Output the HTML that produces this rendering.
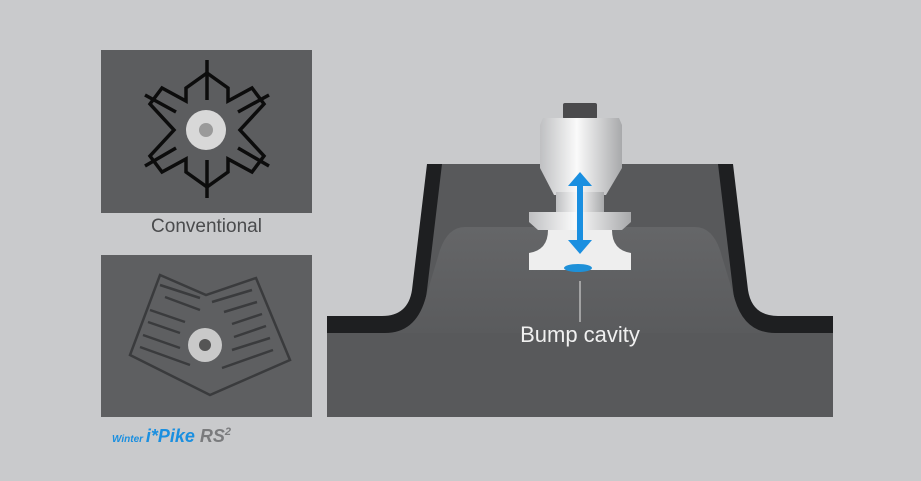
<!DOCTYPE html>
<html><head><style>
body{margin:0;width:921px;height:481px;background:#c9cacc;overflow:hidden;font-family:"Liberation Sans",sans-serif;position:relative}
.t{position:absolute;color:#4a4b4d}
</style></head><body>
<svg width="921" height="481" style="position:absolute;left:0;top:0">
<defs>
<linearGradient id="metal" x1="0" x2="1"><stop offset="0" stop-color="#bfc0c2"/><stop offset=".45" stop-color="#fafafa"/><stop offset="1" stop-color="#a8a9ab"/></linearGradient>
<linearGradient id="bump" x1="0" y1="0" x2="0" y2="1"><stop offset="0" stop-color="#656668"/><stop offset="1" stop-color="#5a5b5d"/></linearGradient>
</defs>
<rect x="101" y="50" width="211" height="163" fill="#5c5d5f"/>
<rect x="101" y="255" width="211" height="162" fill="#5e5f61"/>
<g stroke="#0c0c0c" stroke-width="3.5" fill="none" stroke-linejoin="miter">
<polygon points="186,88 207,73 228,88 228,101 252,88 264,104 240,130 264,156 252,172 228,159 228,172 207,187 186,172 186,159 162,172 150,156 174,130 150,104 162,88 186,101"/>
<path d="M207,60 V100 M207,160 V198 M145,95 L176,112 M269,95 L238,112 M145,166 L176,148 M269,166 L238,148"/>
</g>
<circle cx="206" cy="130" r="20" fill="#d8d8d8"/><circle cx="206" cy="130" r="7" fill="#9a9a9a"/>
<g stroke="#3a3b3d" stroke-width="2.5" fill="none">
<polygon points="160,275 206,295 256,278 290,360 210,395 130,355"/>
<path d="M160,285 L200,298 M165,297 L200,310 M150,310 L185,322 M148,322 L180,333 M143,335 L180,348 M140,347 L190,365 M252,290 L212,302 M257,302 L224,312 M262,314 L232,324 M266,326 L234,337 M270,338 L232,350 M273,350 L222,368"/>
</g>
<circle cx="205" cy="345" r="17" fill="#c9c9c9"/><circle cx="205" cy="345" r="6" fill="#555"/>
<path d="M427,164 H733 L748,290 Q752,316 778,316 H833 V417 H327 V316 H382 Q408,316 412,290 Z" fill="#1e1f21"/>
<path d="M442,164 H718 L733,290 Q738,333 770,333 H833 V417 H327 V333 H390 Q422,333 427,290 Z" fill="#58595b"/>
<path d="M465,227 H695 Q712,227 720,250 L735,300 Q745,333 775,333 H385 Q415,333 425,300 L440,250 Q448,227 465,227 Z" fill="url(#bump)"/>
<rect x="563" y="103" width="34" height="16" rx="2" fill="#4a4a4c"/>
<path d="M543,118 H619 L622,125 V168 L606,195 H554 L540,168 V125 Z" fill="url(#metal)"/>
<rect x="556" y="192" width="48" height="22" fill="url(#metal)"/>
<path d="M529,212 H631 V222 L622,230 H538 L529,222 Z" fill="url(#metal)"/>
<path d="M548,230 H612 Q612,250 631,253 V270 H529 V253 Q548,250 548,230 Z" fill="#eeeeee"/>
<ellipse cx="578" cy="268" rx="14" ry="4" fill="#1e90d8"/>
<g fill="#1a8fe0">
<rect x="577" y="183" width="6" height="60"/>
<polygon points="568,186 580,172 592,186"/>
<polygon points="568,240 580,254 592,240"/>
</g>
<line x1="580" y1="281" x2="580" y2="322" stroke="#cfcfcf" stroke-width="1.2"/>
</svg>
<div class="t" style="left:101px;width:211px;text-align:center;top:216px;font-size:19px">Conventional</div>
<div class="t" style="left:520px;width:120px;text-align:center;top:322px;font-size:22px;color:#f0f0f0">Bump cavity</div>
<div class="t" style="left:112px;top:426px;font-size:18px;font-weight:bold;font-style:italic;white-space:nowrap"><span style="font-size:10px;color:#1a8fe0">Winter </span><span style="color:#1a8fe0">i*Pike</span> <span style="color:#7a7b7d">RS<sup style="font-size:11px">2</sup></span></div>
</body></html>
